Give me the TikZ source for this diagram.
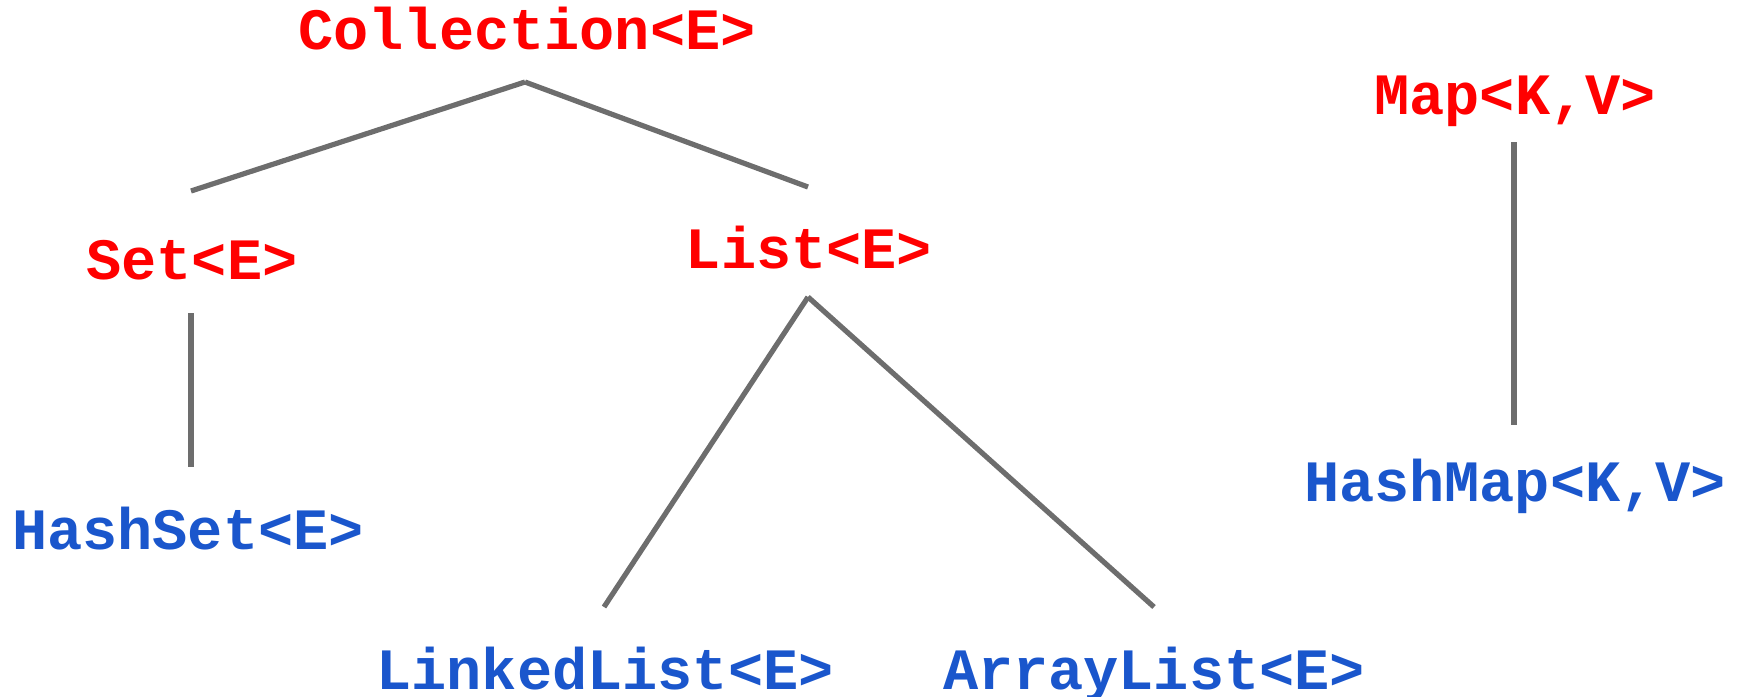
\documentclass[tikz,border=0pt]{standalone}
\usepackage{fontspec}
\setmonofont{Liberation Mono}
\definecolor{ifacered}{HTML}{FF0000}
\definecolor{classblue}{HTML}{1A56CC}
\definecolor{edgegray}{HTML}{6D6D6D}
\tikzset{
  iface/.style={anchor=base, inner sep=0pt, text=ifacered, font=\ttfamily\bfseries\fontsize{29.3}{32}\selectfont},
  impl/.style={anchor=base, inner sep=0pt, text=classblue, font=\ttfamily\bfseries\fontsize{29.3}{32}\selectfont},
  edge/.style={draw=edgegray, line width=2.6pt, line cap=butt}
}
\begin{document}
\begin{tikzpicture}[x=0.5pt, y=-0.5pt]
  \useasboundingbox (0,0) rectangle (1743,696);
  % type names
  \node[iface] (coll) at (527,49) {Collection<E>};
  \node[iface] (map) at (1515,114) {Map<K,V>};
  \node[iface] (set) at (192,279) {Set<E>};
  \node[iface] (list) at (809,268) {List<E>};
  \node[impl] (hset) at (188,549) {HashSet<E>};
  \node[impl] (hmap) at (1515,501) {HashMap<K,V>};
  \node[impl] (llist) at (605,689) {LinkedList<E>};
  \node[impl] (alist) at (1154,689) {ArrayList<E>};
  % connector ends
  \coordinate (collB) at (525,82);
  \coordinate (setT) at (191,191);
  \coordinate (listT) at (808,187);
  \coordinate (setB) at (191,313);
  \coordinate (hsetT) at (191,467);
  \coordinate (listB) at (808,297);
  \coordinate (llistT) at (604,607);
  \coordinate (alistT) at (1154,607);
  \coordinate (mapB) at (1514,142);
  \coordinate (hmapT) at (1514,425);
  % hierarchy lines
  \draw[edge] (setT) -- (collB);
  \draw[edge] (collB) -- (listT);
  \draw[edge] (setB) -- (hsetT);
  \draw[edge] (llistT) -- (listB);
  \draw[edge] (listB) -- (alistT);
  \draw[edge] (mapB) -- (hmapT);
\end{tikzpicture}
\end{document}
